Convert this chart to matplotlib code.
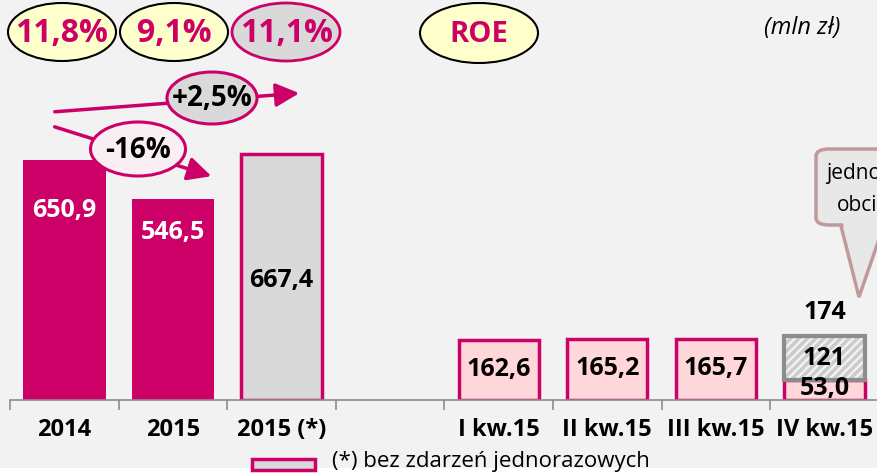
import matplotlib.pyplot as plt
import numpy as np
from matplotlib.patches import Ellipse, FancyArrowPatch, FancyBboxPatch, Polygon, Rectangle

# data
categories = ['2014', '2015', '2015 (*)', '', 'I kw.15', 'II kw.15', 'III kw.15', 'IV kw.15']
annual_values = [650.9, 546.5, 667.4]
quarter_values = [162.6, 165.2, 165.7, 53.0]
q4_one_off = 121
q4_total = 174
roe_labels = ['11,8%', '9,1%', '11,1%']
change_labels = ['+2,5%', '-16%']

MAGENTA = '#cc0066'
GREY = '#d9d9d9'
PINK = '#ffd7da'
BG = '#f2f2f2'
FONT = 'Open Sans'

plt.rcParams['font.family'] = [FONT, 'DejaVu Sans']
plt.rcParams['hatch.linewidth'] = 1.6

W, H = 877, 476
fig = plt.figure(figsize=(W / 100, H / 100), dpi=100, facecolor=BG)


def fx(px):
    return px / W


def fy(py):
    return 1 - py / H


def fmt(v):
    return f'{v:.1f}'.replace('.', ',')


# axes: baseline at y=400px, 8 slots of ~108.6px starting at x=10
ax = fig.add_axes([fx(10), fy(400), 8 * 108.6 / W, 400 / H])
ax.set_facecolor('none')
ax.set_xlim(-0.5, 7.5)
ax.set_ylim(0, 400 / 0.3687)
for s in ['top', 'right', 'left']:
    ax.spines[s].set_visible(False)
ax.spines['bottom'].set_color('#8c8c8c')
ax.spines['bottom'].set_linewidth(1.2)
ax.set_yticks([])

x = np.arange(len(categories))
bw = 0.76

# annual bars
ax.bar(x[0:2], annual_values[0:2], bw, color=MAGENTA, edgecolor='none', zorder=2)
ax.bar(x[2], annual_values[2], bw - 0.02, color=GREY, edgecolor=MAGENTA, linewidth=2.5, zorder=2)

# quarterly bars
ax.bar(x[4:8], quarter_values, bw - 0.02, color=PINK, edgecolor=MAGENTA, linewidth=2.5, zorder=2)
ax.bar(x[7], q4_one_off, bw - 0.02, bottom=quarter_values[3], color='#cccccc',
       edgecolor='#f4f4f4', hatch='////', linewidth=0, zorder=3)
ax.bar(x[7], q4_one_off, bw - 0.02, bottom=quarter_values[3], color='none',
       edgecolor='#8c8c8c', linewidth=3, zorder=4)

# value labels
vfs = 18
ax.text(x[0], 515, fmt(annual_values[0]), color='white', ha='center', va='center',
        fontsize=vfs, fontweight='bold', zorder=5)
ax.text(x[1], 453, fmt(annual_values[1]), color='white', ha='center', va='center',
        fontsize=vfs, fontweight='bold', zorder=5)
ax.text(x[2], 325, fmt(annual_values[2]), color='black', ha='center', va='center',
        fontsize=vfs, fontweight='bold', zorder=5)
for xi, v in zip(x[4:7], quarter_values[:3]):
    ax.text(xi, v / 2 + 2, fmt(v), color='black', ha='center', va='center',
            fontsize=vfs, fontweight='bold', zorder=5)
ax.text(x[7], 30, fmt(quarter_values[3]), color='black', ha='center', va='center',
        fontsize=vfs, fontweight='bold', zorder=5)
ax.text(x[7], quarter_values[3] + q4_one_off / 2, str(q4_one_off), color='black',
        ha='center', va='center', fontsize=vfs, fontweight='bold', zorder=5)
ax.text(x[7], 236, str(q4_total), color='black', ha='center', va='center',
        fontsize=vfs, fontweight='bold', zorder=5)

# ticks: marks at slot boundaries, labels at centres
ax.set_xticks(np.arange(-0.5, 8.0, 1.0))
ax.set_xticklabels([])
ax.tick_params(axis='x', which='major', length=7, width=1.2, color='#8c8c8c', direction='out')
ax.set_xticks(x, minor=True)
ax.set_xticklabels(categories, minor=True, fontsize=17, fontweight='bold')
ax.tick_params(axis='x', which='minor', length=0, pad=13)

# ROE ellipses
roe_centers = [62, 174, 286]
for i, (cx, lab) in enumerate(zip(roe_centers, roe_labels)):
    last = i == 2
    fig.add_artist(Ellipse((fx(cx), fy(32)), 108 / W, 58 / H, transform=fig.transFigure,
                           facecolor=GREY if last else '#ffffcc',
                           edgecolor=MAGENTA if last else 'black',
                           linewidth=2 if last else 1.5))
    fig.text(fx(cx), fy(33), lab, color=MAGENTA, fontsize=23, fontweight='bold',
             ha='center', va='center')
fig.add_artist(Ellipse((fx(479), fy(33)), 118 / W, 60 / H, transform=fig.transFigure,
                       facecolor='#ffffcc', edgecolor='black', linewidth=1.5))
fig.text(fx(479), fy(34), 'ROE', color=MAGENTA, fontsize=21, fontweight='bold',
         ha='center', va='center')
fig.text(fx(802), fy(28), '(mln zł)', fontsize=17, style='italic', ha='center', va='center')

# change arrows
fig.add_artist(FancyArrowPatch((fx(52), fy(112)), (fx(302), fy(93)), transform=fig.transFigure,
                               arrowstyle='-|>,head_length=1.1,head_width=0.55',
                               mutation_scale=13, color=MAGENTA, linewidth=2.5))
fig.add_artist(FancyArrowPatch((fx(52), fy(126)), (fx(214), fy(177)), transform=fig.transFigure,
                               arrowstyle='-|>,head_length=1.1,head_width=0.55',
                               mutation_scale=13, color=MAGENTA, linewidth=2.5))
fig.add_artist(Ellipse((fx(212), fy(98)), 90 / W, 52 / H, transform=fig.transFigure,
                       facecolor=GREY, edgecolor=MAGENTA, linewidth=2.2))
fig.text(fx(212), fy(99), change_labels[0], fontsize=20, fontweight='bold', ha='center', va='center')
fig.add_artist(Ellipse((fx(138), fy(149)), 95 / W, 54 / H, transform=fig.transFigure,
                       facecolor='#f9eef3', edgecolor=MAGENTA, linewidth=2.2))
fig.text(fx(138), fy(150), change_labels[1], fontsize=20, fontweight='bold', ha='center', va='center')

# callout bubble (cut by the right edge, as in the source slide)
cal_edge = '#c09a9a'
fig.add_artist(Polygon([(fx(840), fy(222)), (fx(859), fy(297)), (fx(885), fy(222))],
                       closed=True, transform=fig.transFigure, facecolor='#e8e8e8',
                       edgecolor=cal_edge, linewidth=2.5))
fig.add_artist(FancyBboxPatch((fx(816), fy(225)), 120 / W, 76 / H, transform=fig.transFigure,
                              boxstyle='round,pad=0,rounding_size=0.015',
                              facecolor='#e8e8e8', edgecolor=cal_edge, linewidth=2.5))
fig.add_artist(Polygon([(fx(842), fy(219)), (fx(859), fy(290)), (fx(882), fy(219))],
                       closed=True, transform=fig.transFigure, facecolor='#e8e8e8',
                       edgecolor='none'))
fig.text(fx(826), fy(174), 'jednorazowe', fontsize=15, ha='left', va='center')
fig.text(fx(837), fy(205), 'obciążenia', fontsize=15, ha='left', va='center')

# legend
fig.add_artist(Rectangle((fx(252), fy(470)), 63 / W, 11 / H, transform=fig.transFigure,
                         facecolor=GREY, edgecolor=MAGENTA, linewidth=2.5))
fig.text(fx(332), fy(462), '(*) bez zdarzeń jednorazowych', fontsize=16, ha='left', va='center')

# white strip at bottom
fig.add_artist(Rectangle((0, 0), 1, 8 / H, transform=fig.transFigure, facecolor='white',
                         edgecolor='none', zorder=-1))

fig.savefig('out.png', dpi=100, facecolor=BG)
